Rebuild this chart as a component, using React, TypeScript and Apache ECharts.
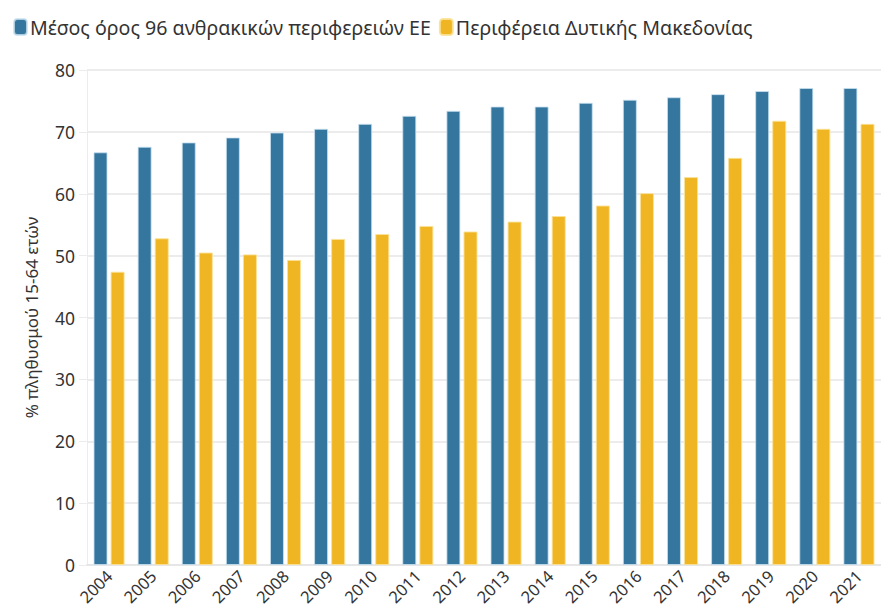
import React, { useEffect, useRef } from "react";
import * as echarts from "echarts";

const years = ["2004","2005","2006","2007","2008","2009","2010","2011","2012","2013","2014","2015","2016","2017","2018","2019","2020","2021"];
const euCoalAvg = [66.7,67.6,68.3,69.1,69.9,70.5,71.3,72.6,73.4,74.1,74.1,74.7,75.2,75.6,76.1,76.6,77.1,77.1];
const westMacedonia = [47.4,52.8,50.5,50.2,49.3,52.7,53.5,54.8,53.9,55.5,56.4,58.1,60.1,62.7,65.8,71.8,70.5,71.3];
const seriesNames = ["Μέσος όρος 96 ανθρακικών περιφερειών ΕΕ", "Περιφέρεια Δυτικής Μακεδονίας"];
const yAxisName = "% πληθυσμού 15-64 ετών";

const FONT = "'Noto Sans', sans-serif";

export default function App() {
  const ref = useRef<HTMLDivElement>(null);
  useEffect(() => {
    const chart = echarts.init(ref.current!, null, { renderer: "svg" });
    chart.setOption({
      animation: false,
      textStyle: { fontFamily: FONT },
      legend: {
        left: 8,
        top: 12,
        itemWidth: 13,
        itemHeight: 16,
        itemGap: 8,
        icon: "roundRect",
        textStyle: { fontSize: 19.6, color: "#333", fontFamily: FONT, padding: [0, 0, 0, -2] },
        data: seriesNames,
      },
      grid: { left: 87, top: 70, bottom: 49, width: 805 },
      xAxis: {
        type: "category",
        data: years,
        axisLine: { lineStyle: { color: "#e6e6e6", width: 2 } },
        axisTick: { alignWithLabel: true, length: 8, lineStyle: { color: "#e6e6e6" } },
        axisLabel: { rotate: 45, fontSize: 16.5, color: "#333", margin: 8, fontFamily: FONT },
      },
      yAxis: {
        type: "value",
        min: 0,
        max: 80,
        interval: 10,
        name: yAxisName,
        nameLocation: "middle",
        nameGap: 47,
        nameTextStyle: { fontSize: 17, color: "#333", fontFamily: FONT },
        axisLine: { show: true, lineStyle: { color: "#ececec" } },
        axisTick: { show: true, length: 8, lineStyle: { color: "#ececec" } },
        axisLabel: { fontSize: 17.5, color: "#333", margin: 12, fontFamily: FONT },
        splitLine: { lineStyle: { color: "#ececec", width: 2 } },
      },
      series: [
        {
          name: seriesNames[0],
          type: "bar",
          data: euCoalAvg,
          barWidth: 14,
          barGap: "22%",
          itemStyle: { color: "#35769f", borderColor: "rgba(200,225,240,0.8)", borderWidth: 1 },
        },
        {
          name: seriesNames[1],
          type: "bar",
          data: westMacedonia,
          barWidth: 14,
          barGap: "22%",
          itemStyle: { color: "#efb522", borderColor: "rgba(250,225,150,0.9)", borderWidth: 1 },
        },
      ],
    });
    return () => chart.dispose();
  }, []);
  return <div ref={ref} style={{ position: "absolute", left: 0, top: 0, width: 881, height: 614 }} />;
}
